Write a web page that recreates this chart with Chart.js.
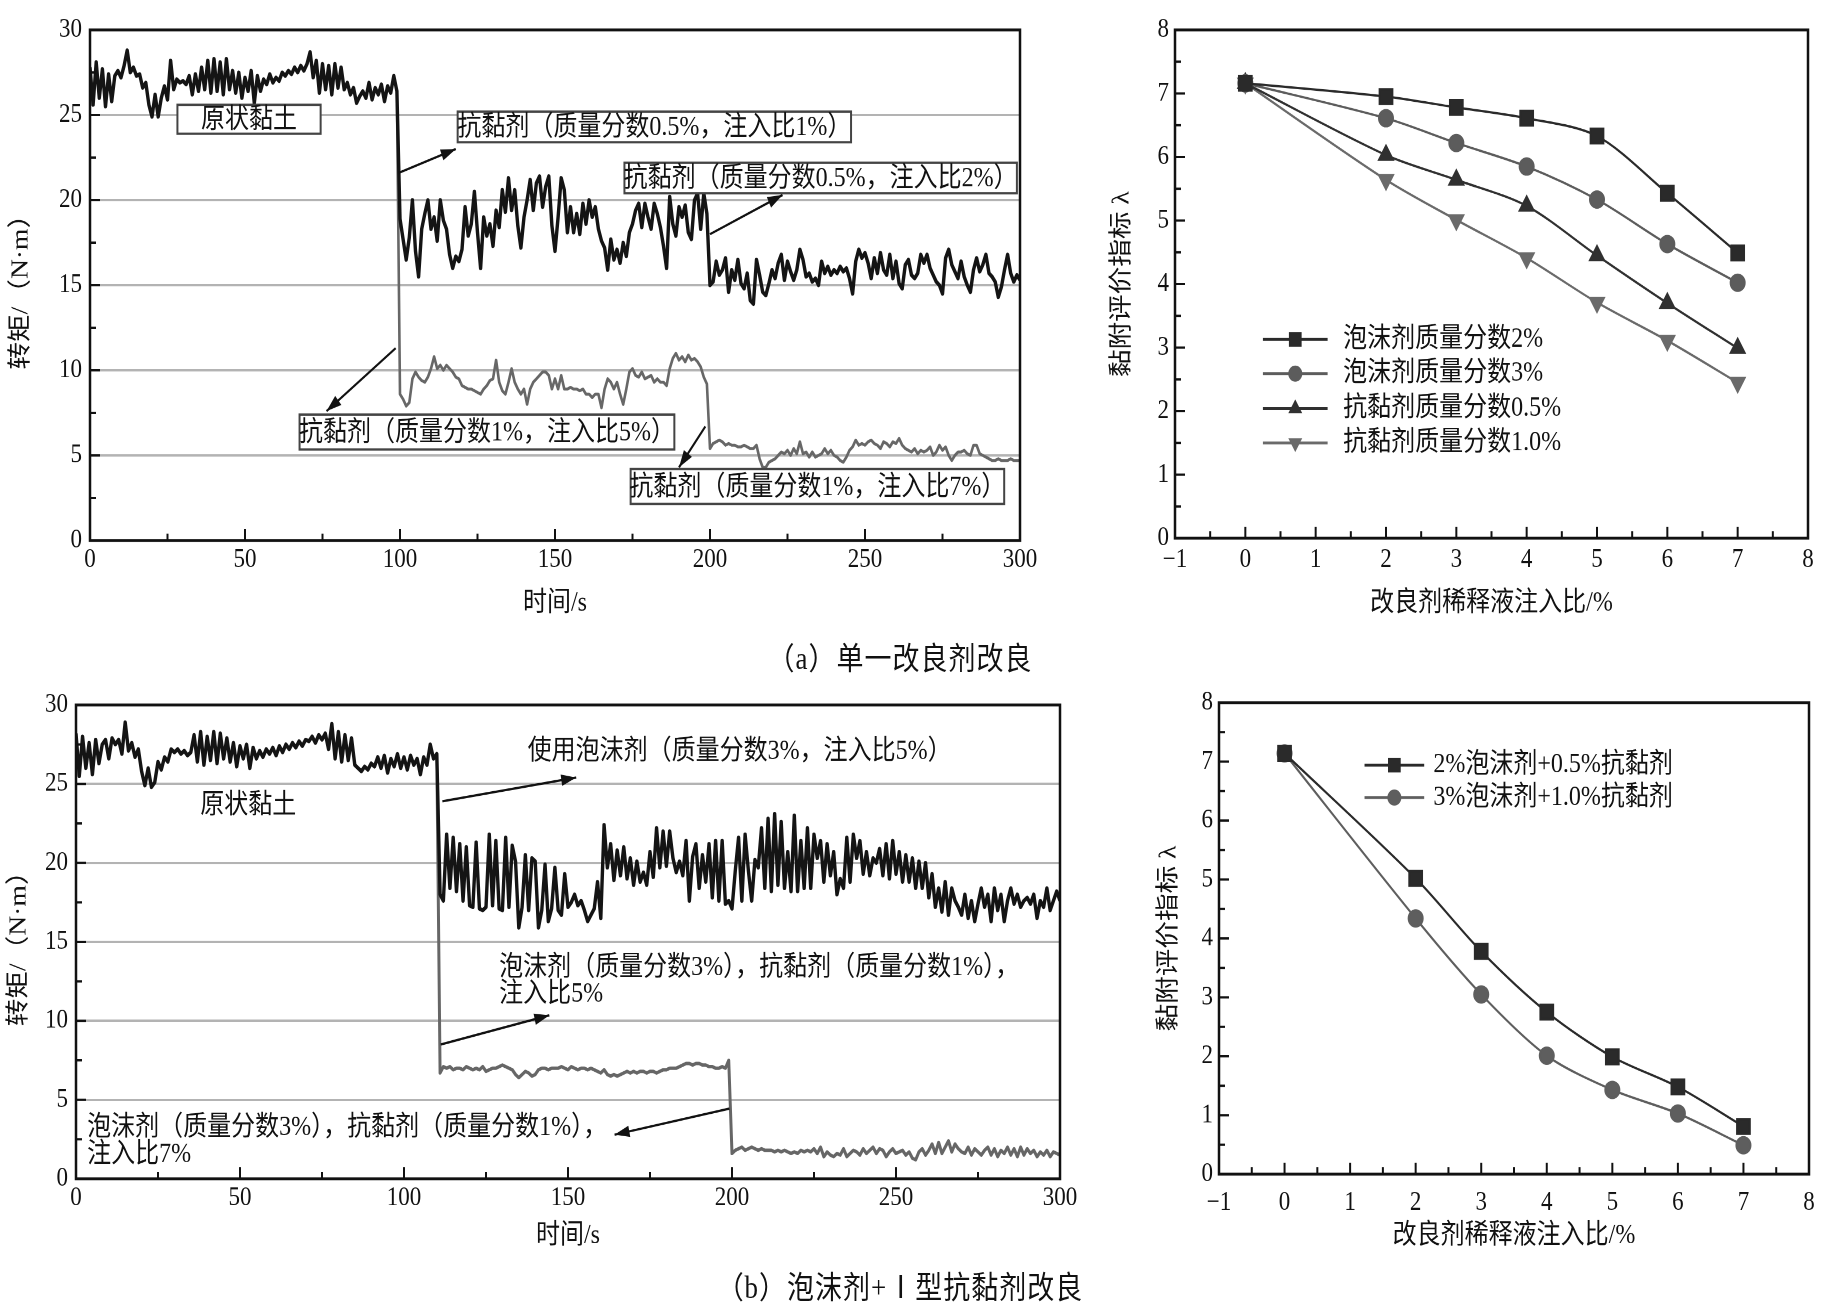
<!DOCTYPE html>
<html>
<head>
<meta charset="utf-8">
<script src="https://cdn.jsdelivr.net/npm/chart.js@4.4.0/dist/chart.umd.min.js"></script>
<style>
  body { margin: 0; background: #fff; width: 1840px; height: 1309px; overflow: hidden; }
  #fig { position: absolute; left: 0; top: 0; width: 1840px; height: 1138px;
         transform: scaleY(1.15); transform-origin: 0 0; }
  .pane { position: absolute; }
  .cap { position: absolute; left: 600px; width: 600px; text-align: center; color: #111;
         font: 27px 'Liberation Serif', 'Noto Sans CJK SC'; letter-spacing: 1px; }
</style>
</head>
<body>
<div id="fig">
  <div class="pane" style="left:0;top:0"><canvas id="ca" width="1070" height="556"></canvas></div>
  <div class="pane" style="left:1082px;top:0"><canvas id="cb" width="750" height="556"></canvas></div>
  <div class="cap" style="top:551px">（a）单一改良剂改良</div>
  <div class="pane" style="left:0;top:591px"><canvas id="cc" width="1090" height="522"></canvas></div>
  <div class="pane" style="left:1103px;top:591px"><canvas id="cd" width="730" height="522"></canvas></div>
  <div class="cap" style="top:1098px">（b）泡沫剂+Ⅰ型抗黏剂改良</div>
</div>
<script>
// ---- data ----
// (a) torque, 1 s steps
const blackA = [27.8,25.6,28.1,26.0,27.7,25.5,27.4,25.8,27.3,27.6,27.2,
  27.9,28.8,27.5,27.8,27.3,27.4,26.6,26.9,25.6,24.9,
  26.2,24.9,26.0,26.7,25.9,28.2,26.5,27.1,26.9,27.0,
  26.8,27.3,26.2,27.4,26.4,27.8,26.5,28.2,26.3,28.3,
  26.4,28.1,26.2,28.3,26.5,27.6,26.3,27.5,26.0,27.2,
  26.4,27.6,25.7,27.3,26.4,27.1,26.8,27.4,26.9,27.2,
  27.0,27.5,27.3,27.6,27.4,27.8,27.5,27.9,27.6,28.0,
  28.7,27.2,28.2,26.3,28.0,26.5,27.9,26.2,28.0,26.6,
  27.8,26.5,26.9,26.2,26.6,25.7,26.1,26.4,26.0,26.9,
  25.9,26.6,26.2,26.8,25.8,26.7,26.3,27.3,26.4,18.9,
  17.7,16.5,17.8,20.0,17.0,15.5,18.3,19.2,20.0,18.3,
  19.0,17.6,20.0,18.8,18.3,16.8,16.0,16.7,16.4,17.1,
  19.6,17.9,18.6,20.5,18.1,16.0,19.0,17.9,18.6,17.3,
  19.4,18.4,20.6,19.3,21.3,19.4,20.6,18.5,17.2,19.0,
  20.0,21.2,19.4,21.0,21.4,19.6,20.8,21.4,18.5,17.0,
  19.0,21.3,20.6,18.1,19.6,18.1,19.2,18.0,19.8,18.6,
  20.0,19.0,19.6,18.3,17.6,17.2,15.9,17.7,16.5,17.1,
  16.3,17.5,16.7,18.1,18.6,19.4,19.8,18.4,19.8,19.0,
  18.3,19.8,19.2,18.4,17.3,16.0,20.2,18.6,17.9,19.6,
  19.0,19.7,18.1,17.7,20.0,20.4,18.3,20.4,19.2,15.0,
  15.2,16.4,15.6,15.9,16.6,14.6,15.9,15.3,16.5,15.1,
  14.8,15.7,14.1,13.9,16.5,15.6,14.6,14.4,15.1,15.9,
  15.4,16.3,16.8,15.3,16.4,15.8,15.3,15.9,17.1,16.5,
  15.5,15.7,15.2,15.4,15.0,16.4,15.7,16.1,15.6,15.9,
  15.7,16.1,15.8,16.0,15.4,14.5,16.4,17.1,16.6,16.9,
  16.3,15.4,16.6,15.7,16.9,15.9,15.6,16.8,15.4,16.4,
  15.1,14.8,16.2,16.5,15.6,15.4,15.7,16.8,16.3,16.8,
  16.0,15.6,15.2,15.0,14.5,16.6,17.1,16.2,15.8,15.4,
  16.4,15.5,15.0,14.6,15.9,16.6,15.8,16.2,16.8,15.7,
  15.5,15.2,14.3,14.9,15.9,16.8,15.7,15.2,15.6,15.3];
const blackAStart = 0;
const grayA = [26.4,8.6,
  8.3,7.9,8.1,9.5,9.9,9.6,9.4,9.3,9.6,10.1,
  10.8,10.1,10.3,10.0,10.3,10.1,9.9,9.6,9.5,9.1,
  9.0,8.9,8.9,8.8,8.7,8.6,8.9,9.1,9.4,9.5,
  10.6,9.3,8.8,8.6,9.3,10.1,9.3,8.9,8.6,8.9,
  8.0,8.9,9.3,9.5,9.7,9.9,9.9,9.7,8.9,9.5,
  8.9,9.7,8.9,8.9,9.0,8.9,8.9,8.8,8.9,8.6,
  8.6,8.4,8.6,8.6,7.8,8.9,9.5,9.3,8.9,9.3,
  8.6,8.0,8.9,9.9,10.1,9.7,9.6,9.9,9.5,9.6,
  9.7,9.3,9.5,9.3,9.3,9.1,10.1,10.7,11.0,10.6,
  10.8,10.5,10.9,10.6,10.7,10.5,10.2,9.6,9.2,5.4,
  5.7,5.8,5.9,5.8,5.6,5.7,5.6,5.6,5.5,5.5,
  5.6,5.5,5.4,5.4,5.6,4.8,4.3,4.3,4.6,4.7,
  4.8,5.0,5.2,5.1,5.3,5.0,5.4,5.1,5.8,5.1,
  5.2,4.9,5.2,4.9,5.0,5.1,5.4,5.1,5.3,5.0,
  4.9,4.7,4.6,4.9,5.3,5.5,5.9,5.6,5.7,5.6,
  5.8,5.9,5.7,5.6,5.4,5.8,5.7,5.5,5.8,5.7,
  6.0,5.6,5.4,5.3,5.2,5.4,5.1,5.3,5.2,5.3,
  5.5,5.0,5.2,5.6,5.3,5.5,5.0,4.7,5.0,5.2,
  5.2,5.3,5.1,5.0,5.6,5.6,5.1,5.0,4.9,4.8,
  4.7,4.7,4.8,4.7,4.7,4.7,4.8,4.7,4.7,4.7];
const grayAStart = 99;

// (b) torque, 1 s steps
const blackC = [28.2,25.5,28.0,26.0,27.6,25.6,27.8,26.3,27.5,27.8,26.6,
  27.9,27.5,27.8,26.9,28.9,27.1,27.6,26.7,27.2,25.8,
  24.9,26.0,24.8,25.1,26.4,25.9,26.7,26.4,27.2,27.0,
  27.2,26.9,27.1,26.8,27.0,28.1,26.4,28.3,26.2,28.0,
  26.5,28.3,26.3,28.2,26.6,27.9,26.4,27.6,26.1,27.4,
  26.6,27.5,26.0,27.3,26.6,27.1,26.7,27.2,26.9,27.3,
  26.8,27.4,27.0,27.5,27.2,27.6,27.3,27.7,27.4,27.8,
  27.7,28.0,27.6,28.1,27.8,28.2,27.2,28.8,26.6,28.3,
  26.4,28.1,26.5,27.9,26.2,26.0,25.8,26.1,25.9,26.3,
  26.1,26.7,26.0,26.8,25.7,26.6,26.1,26.9,26.0,26.7,
  25.9,26.8,26.2,26.6,25.6,26.7,26.2,27.5,26.6,26.9,
  18.0,17.6,21.8,18.4,21.6,18.2,21.2,17.6,21.0,17.3,
  17.2,21.3,17.1,17.0,17.2,21.8,17.3,21.4,17.1,17.0,
  21.6,17.2,21.1,20.1,15.9,17.2,20.5,17.0,20.3,20.1,
  15.9,17.0,19.9,16.3,17.1,19.7,17.0,16.7,19.3,17.2,
  17.5,18.0,17.3,17.6,17.0,16.3,16.7,17.1,18.8,16.5,
  22.4,19.7,21.2,18.9,20.8,19.2,21.0,19.0,20.3,18.6,
  20.1,18.8,19.4,18.6,20.7,19.1,22.2,19.7,22.0,19.8,
  22.0,20.3,19.4,20.1,19.2,21.4,17.6,20.4,21.2,18.4,
  20.5,18.8,21.2,17.8,21.4,17.6,21.4,17.4,17.6,17.1,
  19.5,21.6,17.6,21.8,19.5,17.6,20.2,19.7,22.2,18.4,
  22.8,18.2,23.1,18.6,22.6,18.4,20.7,18.2,23.0,18.2,
  21.4,18.4,22.2,18.4,21.8,20.3,21.4,18.8,21.2,19.2,
  20.7,18.0,19.0,18.4,21.6,18.8,21.8,20.3,21.4,19.3,
  20.7,19.2,20.3,20.0,20.9,19.2,21.2,19.0,21.4,19.3,
  20.7,18.8,20.5,18.8,20.3,18.4,20.1,18.4,20.0,17.8,
  19.3,17.2,18.4,16.9,18.8,16.7,18.4,17.6,17.2,16.7,
  18.0,16.5,17.6,16.3,17.4,18.4,17.2,18.0,16.3,18.4,
  17.0,18.0,16.3,17.6,18.4,17.4,18.0,17.2,17.6,17.8,
  17.4,18.0,16.5,17.6,17.2,18.4,17.0,17.6,18.2,17.6];
const blackCStart = 0;
const grayC = [26.9,
  6.7,7.1,7.0,7.1,6.9,7.0,7.0,6.9,7.1,7.0,
  6.9,7.0,6.9,7.1,6.8,6.9,7.0,7.0,7.1,7.2,
  7.1,7.0,6.9,6.6,6.4,6.6,6.8,6.7,6.5,6.6,
  6.9,7.0,7.0,6.9,7.0,7.0,7.0,7.1,7.0,6.9,
  7.1,7.0,6.9,7.0,7.0,6.9,7.0,6.9,6.8,6.7,
  6.9,6.6,6.5,6.6,6.5,6.6,6.7,6.8,6.7,6.8,
  6.7,6.8,6.8,6.7,6.8,6.8,6.7,6.8,6.9,6.9,
  7.0,7.0,7.0,7.1,7.2,7.3,7.3,7.2,7.3,7.3,
  7.2,7.2,7.1,7.1,7.0,7.0,7.1,7.0,7.5,1.6,
  1.8,1.9,2.0,1.8,1.9,2.0,1.9,1.8,1.9,1.8,
  1.8,1.8,1.7,1.8,1.7,1.8,1.7,1.6,1.7,1.6,
  1.8,1.7,1.8,1.7,1.9,1.6,2.0,1.4,1.7,1.5,
  1.4,1.6,1.5,1.9,1.4,1.6,1.8,1.7,1.5,1.9,
  1.6,1.8,2.0,1.6,1.9,1.8,1.4,1.7,1.9,1.6,
  1.7,1.8,1.5,1.7,1.3,1.2,1.7,1.9,1.5,1.8,
  2.2,1.6,2.3,1.6,2.0,2.4,1.7,2.2,1.9,1.7,
  1.6,2.0,1.5,1.9,1.7,1.5,1.8,2.0,1.5,1.9,
  1.4,1.8,1.6,2.0,1.5,1.9,1.4,2.0,1.5,1.9,
  1.6,1.8,1.4,1.7,1.5,1.8,1.4,1.7,1.6,1.5];
const grayCStart = 110;

// adhesion index lambda vs injection ratio
const ratioX = [0, 2, 3, 4, 5, 6, 7];
const foam2 = [7.16, 6.95, 6.78, 6.61, 6.33, 5.43, 4.49];
const foam3 = [7.16, 6.61, 6.22, 5.85, 5.33, 4.63, 4.02];
const anti05 = [7.16, 6.03, 5.64, 5.23, 4.45, 3.70, 2.99];
const anti10 = [7.16, 5.64, 5.01, 4.41, 3.71, 3.11, 2.45];
const combo1 = [7.14, 5.02, 3.78, 2.75, 1.99, 1.48, 0.81];
const combo2 = [7.14, 4.34, 3.05, 2.01, 1.43, 1.03, 0.49];

const timeTicks = [0, 50, 100, 150, 200, 250, 300];
const ratioTicks = [-1, 0, 1, 2, 3, 4, 5, 6, 7, 8];

// ---- helpers ----
const FAM = "'Liberation Serif', 'Noto Sans CJK SC'";
const series = (vals, t0) => vals.map((v, i) => ({ x: t0 + i, y: v }));
const pairs = (ys) => ratioX.map((x, i) => ({ x: x, y: ys[i] }));

function marker(ctx, style, px, py, r, down) {
  ctx.beginPath();
  if (style === 'rect') {
    const h = r * Math.SQRT1_2;
    ctx.rect(px - h, py - h, 2 * h, 2 * h);
  } else if (style === 'circle') {
    ctx.arc(px, py, r, 0, Math.PI * 2);
  } else {
    const s = down ? -1 : 1, c = r * Math.cos(Math.PI / 6);
    ctx.moveTo(px, py - s * r);
    ctx.lineTo(px + c, py + s * r / 2);
    ctx.lineTo(px - c, py + s * r / 2);
    ctx.closePath();
  }
  ctx.fill();
}

function arrow(ctx, x0, y0, x1, y1) {
  ctx.beginPath(); ctx.moveTo(x0, y0); ctx.lineTo(x1, y1); ctx.stroke();
  const a = Math.atan2(y1 - y0, x1 - x0), L = 15, W = 5;
  ctx.beginPath();
  ctx.moveTo(x1, y1);
  ctx.lineTo(x1 - L * Math.cos(a) + W * Math.sin(a), y1 - L * Math.sin(a) - W * Math.cos(a));
  ctx.lineTo(x1 - L * Math.cos(a) - W * Math.sin(a), y1 - L * Math.sin(a) + W * Math.cos(a));
  ctx.closePath(); ctx.fill();
}

// frame, inward ticks, boxes, arrows, free text, legend
function decor(cfg) {
  return {
    id: 'decor',
    afterDatasetsDraw(chart) {
      const { ctx, chartArea: a, scales: { x, y } } = chart;
      const X = v => x.getPixelForValue(v), Y = v => y.getPixelForValue(v);
      const isMajor = (v, m) => Math.abs(v / m - Math.round(v / m)) < 1e-6;
      ctx.save();
      ctx.strokeStyle = '#111'; ctx.fillStyle = '#111';
      ctx.lineWidth = 2;
      for (let v = x.min; v <= x.max + 1e-9; v += cfg.xMinor) {
        const p = X(v);
        ctx.beginPath(); ctx.moveTo(p, a.bottom); ctx.lineTo(p, a.bottom - (isMajor(v, cfg.xMajor) ? 10 : 6)); ctx.stroke();
      }
      for (let v = y.min; v <= y.max + 1e-9; v += cfg.yMinor) {
        const p = Y(v);
        ctx.beginPath(); ctx.moveTo(a.left, p); ctx.lineTo(a.left + (isMajor(v, cfg.yMajor) ? 10 : 6), p); ctx.stroke();
      }
      ctx.lineWidth = 2.5;
      ctx.strokeRect(a.left, a.top, a.right - a.left, a.bottom - a.top);

      ctx.font = '24px ' + FAM;
      ctx.textBaseline = 'middle';
      (cfg.boxes || []).forEach(b => {
        const l = X(b.x0), r = X(b.x1), t = Y(b.y0), btm = Y(b.y1);
        ctx.fillStyle = '#fff'; ctx.fillRect(l, t, r - l, btm - t);
        ctx.strokeStyle = '#444'; ctx.lineWidth = 2; ctx.strokeRect(l, t, r - l, btm - t);
        ctx.fillStyle = '#111'; ctx.textAlign = 'center';
        ctx.fillText(b.text, (l + r) / 2, (t + btm) / 2 + 1);
      });
      ctx.strokeStyle = '#111'; ctx.fillStyle = '#111'; ctx.lineWidth = 2;
      (cfg.arrows || []).forEach(p => arrow(ctx, X(p[0]), Y(p[1]), X(p[2]), Y(p[3])));
      (cfg.texts || []).forEach(t => {
        ctx.textAlign = t.align || 'left';
        ctx.fillText(t.text, X(t.x), Y(t.y));
      });
      if (cfg.legend) {
        const g = cfg.legend;
        g.items.forEach((it, i) => {
          const py = Y(g.ys[i]);
          ctx.strokeStyle = it.color; ctx.fillStyle = it.color; ctx.lineWidth = 2.5;
          ctx.beginPath(); ctx.moveTo(X(g.x0), py); ctx.lineTo(X(g.x1), py); ctx.stroke();
          marker(ctx, it.style, (X(g.x0) + X(g.x1)) / 2, py, it.r, it.down);
          ctx.fillStyle = '#111'; ctx.textAlign = 'left';
          ctx.fillText(it.label, X(g.xt), py);
        });
      }
      ctx.restore();
    }
  };
}

function axes(o) {
  const tickFont = { family: FAM, size: 23 };
  const titleFont = { family: FAM, size: 24 };
  return {
    x: {
      type: 'linear', min: o.xmin, max: o.xmax,
      afterBuildTicks: s => { s.ticks = o.xTicks.map(v => ({ value: v })); },
      ticks: { font: tickFont, color: '#111', padding: o.xPad, maxRotation: 0,
               callback: v => (v < 0 ? '\u2212' + Math.abs(v) : String(v)) },
      grid: { display: false, drawTicks: false }, border: { display: false },
      title: { display: true, text: o.xTitle, font: titleFont, color: '#111', padding: { top: 0, bottom: o.xTitlePad } },
      afterFit: s => { s.height = o.xH; }
    },
    y: {
      min: o.ymin, max: o.ymax,
      ticks: { stepSize: o.yStep, font: tickFont, color: '#111', padding: o.yPad },
      grid: { display: o.yGrid, drawTicks: false, lineWidth: 2,
              color: c => (c.tick.value > o.ymin && c.tick.value < o.ymax) ? '#b3b3b3' : 'rgba(0,0,0,0)' },
      border: { display: false },
      title: { display: true, text: o.yTitle, font: titleFont, color: '#111', padding: { top: o.yTitlePad, bottom: 0 } },
      afterFit: s => { s.width = o.yW; }
    }
  };
}

const base = (pad) => ({
  responsive: false, animation: false, devicePixelRatio: 2, events: [],
  layout: { padding: pad },
  plugins: { legend: { display: false }, tooltip: { enabled: false } }
});

const tsLine = (data, color, w) => ({
  data: data, borderColor: color, borderWidth: w, pointRadius: 0, tension: 0,
  borderJoinStyle: 'round', fill: false
});

// ---- (a) left: torque ----
new Chart(document.getElementById('ca'), {
  type: 'line',
  data: { datasets: [
    tsLine(series(blackA, blackAStart), '#141414', 3.4),
    tsLine(series(grayA, grayAStart), '#676767', 2.6)
  ] },
  options: Object.assign(base({ left: 0, top: 26, right: 50, bottom: 0 }), {
    scales: axes({ xmin: 0, xmax: 300, xTicks: timeTicks, xPad: 3, xTitle: '时间/s', xTitlePad: 17, xH: 86,
                   ymin: 0, ymax: 30, yStep: 5, yPad: 8, yGrid: true, yTitle: '转矩/（N·m）', yTitlePad: 7, yW: 90 })
  }),
  plugins: [decor({
    xMinor: 25, xMajor: 50, yMinor: 2.5, yMajor: 5,
    boxes: [
      { text: '原状黏土', x0: 28.2, x1: 74.4, y0: 25.6, y1: 23.9 },
      { text: '抗黏剂（质量分数0.5%，注入比1%）', x0: 118.6, x1: 245.5, y0: 25.2, y1: 23.4 },
      { text: '抗黏剂（质量分数0.5%，注入比2%）', x0: 172.4, x1: 299, y0: 22.2, y1: 20.4 },
      { text: '抗黏剂（质量分数1%，注入比5%）', x0: 67.6, x1: 188.5, y0: 7.4, y1: 5.35 },
      { text: '抗黏剂（质量分数1%，注入比7%）', x0: 174.4, x1: 294.9, y0: 4.2, y1: 2.15 }
    ],
    arrows: [
      [99.6, 21.6, 118, 23.0],
      [200, 18.0, 223.4, 20.3],
      [98.6, 11.3, 76.3, 7.6],
      [198.5, 6.7, 190, 4.3]
    ]
  })]
});

// ---- (a) right: lambda ----
new Chart(document.getElementById('cb'), {
  type: 'line',
  data: { datasets: [
    { data: pairs(foam2), borderColor: '#2a2a2a', backgroundColor: '#2a2a2a', pointStyle: 'rect', pointRadius: 9, borderWidth: 2, tension: 0.3 },
    { data: pairs(foam3), borderColor: '#5c5c5c', backgroundColor: '#5c5c5c', pointStyle: 'circle', pointRadius: 7, borderWidth: 2, tension: 0.3 },
    { data: pairs(anti05), borderColor: '#303030', backgroundColor: '#303030', pointStyle: 'triangle', pointRadius: 8, borderWidth: 2, tension: 0.3 },
    { data: pairs(anti10), borderColor: '#6a6a6a', backgroundColor: '#6a6a6a', pointStyle: 'triangle', pointRotation: 180, pointRadius: 8, borderWidth: 2, tension: 0.3 }
  ] },
  options: Object.assign(base({ left: 0, top: 26, right: 24, bottom: 0 }), {
    scales: axes({ xmin: -1, xmax: 8, xTicks: ratioTicks, xPad: 5, xTitle: '改良剂稀释液注入比/%', xTitlePad: 17, xH: 88,
                   ymin: 0, ymax: 8, yStep: 1, yPad: 6, yGrid: false, yTitle: '黏附评价指标 λ', yTitlePad: 26, yW: 93 })
  }),
  plugins: [decor({
    xMinor: 0.5, xMajor: 1, yMinor: 0.5, yMajor: 1,
    legend: {
      x0: 0.25, x1: 1.17, xt: 1.39, ys: [3.13, 2.59, 2.04, 1.5],
      items: [
        { label: '泡沫剂质量分数2%', color: '#2a2a2a', style: 'rect', r: 9 },
        { label: '泡沫剂质量分数3%', color: '#5c5c5c', style: 'circle', r: 7 },
        { label: '抗黏剂质量分数0.5%', color: '#303030', style: 'tri', r: 8 },
        { label: '抗黏剂质量分数1.0%', color: '#6a6a6a', style: 'tri', r: 8, down: true }
      ]
    }
  })]
});

// ---- (b) left: torque ----
new Chart(document.getElementById('cc'), {
  type: 'line',
  data: { datasets: [
    tsLine(series(blackC, blackCStart), '#141414', 3.4),
    tsLine(series(grayC, grayCStart), '#666666', 3)
  ] },
  options: Object.assign(base({ left: 0, top: 22, right: 30, bottom: 0 }), {
    scales: axes({ xmin: 0, xmax: 300, xTicks: timeTicks, xPad: 3, xTitle: '时间/s', xTitlePad: 24, xH: 88,
                   ymin: 0, ymax: 30, yStep: 5, yPad: 8, yGrid: true, yTitle: '转矩/（N·m）', yTitlePad: 5, yW: 76 })
  }),
  plugins: [decor({
    xMinor: 25, xMajor: 50, yMinor: 2.5, yMajor: 5,
    texts: [
      { text: '原状黏土', x: 52.5, y: 23.6, align: 'center' },
      { text: '使用泡沫剂（质量分数3%，注入比5%）', x: 137.7, y: 27.05 },
      { text: '泡沫剂（质量分数3%），抗黏剂（质量分数1%），', x: 129, y: 13.35 },
      { text: '注入比5%', x: 129, y: 11.66 },
      { text: '泡沫剂（质量分数3%），抗黏剂（质量分数1%），', x: 3.4, y: 3.21 },
      { text: '注入比7%', x: 3.4, y: 1.5 }
    ],
    arrows: [
      [111.7, 23.9, 152.5, 25.4],
      [111.2, 8.5, 144.3, 10.35],
      [199.2, 4.44, 164.2, 2.79]
    ]
  })]
});

// ---- (b) right: lambda ----
new Chart(document.getElementById('cd'), {
  type: 'line',
  data: { datasets: [
    { data: pairs(combo1), borderColor: '#2a2a2a', backgroundColor: '#2a2a2a', pointStyle: 'rect', pointRadius: 9, borderWidth: 2, tension: 0.3 },
    { data: pairs(combo2), borderColor: '#5e5e5e', backgroundColor: '#5e5e5e', pointStyle: 'circle', pointRadius: 7, borderWidth: 2, tension: 0.3 }
  ] },
  options: Object.assign(base({ left: 0, top: 20, right: 24, bottom: 0 }), {
    scales: axes({ xmin: -1, xmax: 8, xTicks: ratioTicks, xPad: 11, xTitle: '改良剂稀释液注入比/%', xTitlePad: 24, xH: 92,
                   ymin: 0, ymax: 8, yStep: 1, yPad: 6, yGrid: false, yTitle: '黏附评价指标 λ', yTitlePad: 52, yW: 116 })
  }),
  plugins: [decor({
    xMinor: 0.5, xMajor: 1, yMinor: 0.5, yMajor: 1,
    legend: {
      x0: 1.22, x1: 2.13, xt: 2.27, ys: [6.94, 6.39],
      items: [
        { label: '2%泡沫剂+0.5%抗黏剂', color: '#2a2a2a', style: 'rect', r: 9 },
        { label: '3%泡沫剂+1.0%抗黏剂', color: '#5e5e5e', style: 'circle', r: 7 }
      ]
    }
  })]
});
</script>
</body>
</html>
